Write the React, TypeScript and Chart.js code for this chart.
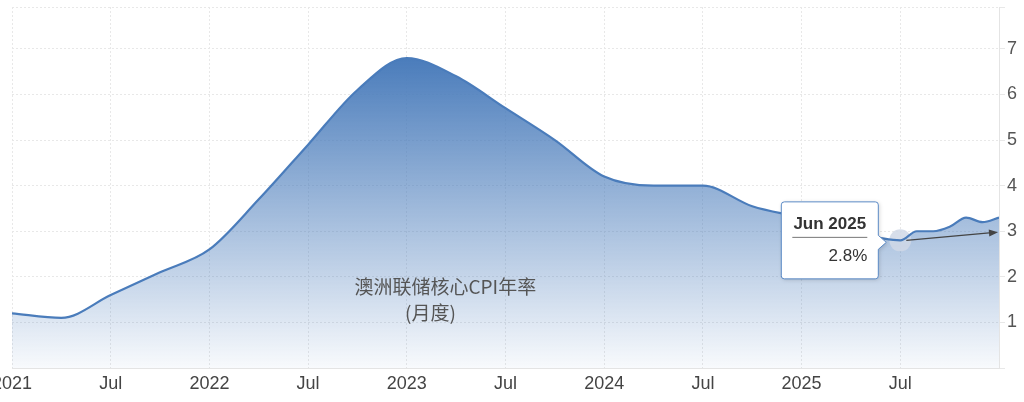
import { useEffect, useRef } from "react";
import { Chart, registerables } from "chart.js";

Chart.register(...registerables);

// quarterly readings, monthly from mid-2025 (period = month the reading ends)
const periods = [
  "2020-12", "2021-03", "2021-06", "2021-09", "2021-12",
  "2022-03", "2022-06", "2022-09", "2022-12",
  "2023-03", "2023-06", "2023-09", "2023-12",
  "2024-03", "2024-06", "2024-09", "2024-12",
  "2025-03", "2025-06", "2025-07", "2025-08", "2025-09", "2025-10", "2025-11", "2025-12",
];
const values = [
  1.2, 1.1, 1.6, 2.1, 2.6,
  3.7, 4.9, 6.1, 6.8,
  6.4, 5.7, 5.0, 4.2,
  4.0, 4.0, 3.55, 3.3,
  3.0, 2.8, 3.0, 3.0, 3.1, 3.3, 3.2, 3.3,
];
const yTicks = [1, 2, 3, 4, 5, 6, 7];
const yMax = 7.92;
const tooltipTitle = "Jun 2025";
const tooltipValue = "2.8%";
const hoverPeriod = "2025-06";
const arrowEndValue = 2.98;
const titleLines = ["澳洲联储核心CPI年率", "(月度)"];

const BASE_YEAR = 2021;
const toMonth = (p: string) => {
  const [y, m] = p.split("-").map(Number);
  return (y - BASE_YEAR) * 12 + m;
};
const points = periods.map((p, i) => ({ x: toMonth(p), y: values[i] }));
const hoverIndex = periods.indexOf(hoverPeriod);
const lastMonth = points[points.length - 1].x;

const LINE = "#4a7cbb";
const FONT = "'Liberation Sans', Arial, sans-serif";

const overlayPlugin = {
  id: "overlay",
  // runs after the filler has painted the area, before the line itself
  beforeDatasetDraw(chart: any) {
    const { ctx, scales } = chart;
    const pt = points[hoverIndex];
    ctx.save();
    ctx.fillStyle = "rgba(208,216,230,0.85)";
    ctx.beginPath();
    ctx.arc(scales.x.getPixelForValue(pt.x), scales.y.getPixelForValue(pt.y), 11, 0, Math.PI * 2);
    ctx.fill();
    ctx.restore();
  },
  afterDatasetsDraw(chart: any) {
    const { ctx, chartArea, scales } = chart;
    const w = chartArea.right - chartArea.left;
    const h = chartArea.bottom - chartArea.top;

    // series title inside the area
    ctx.save();
    ctx.fillStyle = "#555";
    ctx.font = "19px 'Noto Sans CJK SC', sans-serif";
    ctx.textAlign = "center";
    ctx.textBaseline = "middle";
    ctx.fillText(titleLines[0], chartArea.left + w * 0.439, chartArea.top + h * 0.776);
    ctx.fillText(titleLines[1], chartArea.left + w * 0.424, chartArea.top + h * 0.848);
    ctx.restore();

    // arrow from hovered point to the axis
    const pt = points[hoverIndex];
    const x0 = scales.x.getPixelForValue(pt.x);
    const y0 = scales.y.getPixelForValue(pt.y);
    const x1 = chartArea.right - 1;
    const y1 = scales.y.getPixelForValue(arrowEndValue);
    const ang = Math.atan2(y1 - y0, x1 - x0);
    ctx.save();
    ctx.strokeStyle = "#444";
    ctx.fillStyle = "#444";
    ctx.lineWidth = 1.3;
    ctx.beginPath();
    ctx.moveTo(x0 + 6, y0);
    ctx.lineTo(x1 - 6 * Math.cos(ang), y1 - 6 * Math.sin(ang));
    ctx.stroke();
    ctx.beginPath();
    ctx.moveTo(x1, y1);
    ctx.lineTo(x1 - 9 * Math.cos(ang) + 3.5 * Math.sin(ang), y1 - 9 * Math.sin(ang) - 3.5 * Math.cos(ang));
    ctx.lineTo(x1 - 9 * Math.cos(ang) - 3.5 * Math.sin(ang), y1 - 9 * Math.sin(ang) + 3.5 * Math.cos(ang));
    ctx.closePath();
    ctx.fill();
    ctx.restore();
  },
  afterDraw(chart: any) {
    const { ctx, scales } = chart;
    const pt = points[hoverIndex];
    const px = scales.x.getPixelForValue(pt.x);
    const py = scales.y.getPixelForValue(pt.y);
    const bw = 97;
    const bh = 77;
    const right = px - 22;
    const left = right - bw;
    const top = py - bh / 2;
    const cy = py + 2;

    ctx.save();
    ctx.shadowColor = "rgba(0,0,0,0.18)";
    ctx.shadowBlur = 4;
    ctx.shadowOffsetX = 1;
    ctx.shadowOffsetY = 1;
    ctx.beginPath();
    ctx.moveTo(left + 3, top);
    ctx.lineTo(right - 3, top);
    ctx.quadraticCurveTo(right, top, right, top + 3);
    ctx.lineTo(right, cy - 7);
    ctx.lineTo(right + 8, cy);
    ctx.lineTo(right, cy + 7);
    ctx.lineTo(right, top + bh - 3);
    ctx.quadraticCurveTo(right, top + bh, right - 3, top + bh);
    ctx.lineTo(left + 3, top + bh);
    ctx.quadraticCurveTo(left, top + bh, left, top + bh - 3);
    ctx.lineTo(left, top + 3);
    ctx.quadraticCurveTo(left, top, left + 3, top);
    ctx.closePath();
    ctx.fillStyle = "#fff";
    ctx.fill();
    ctx.shadowColor = "transparent";
    ctx.strokeStyle = "#5b8ac6";
    ctx.lineWidth = 1;
    ctx.stroke();

    ctx.fillStyle = "#333";
    ctx.textBaseline = "middle";
    ctx.font = `bold 17px ${FONT}`;
    ctx.textAlign = "center";
    ctx.fillText(tooltipTitle, (left + right) / 2, top + 22);
    ctx.strokeStyle = "#777";
    ctx.beginPath();
    ctx.moveTo(left + 11, top + 35.5);
    ctx.lineTo(right - 11, top + 35.5);
    ctx.stroke();
    ctx.font = `17px ${FONT}`;
    ctx.textAlign = "right";
    ctx.fillText(tooltipValue, right - 11, top + 54);
    ctx.restore();
  },
};

export default function App() {
  const canvasRef = useRef<HTMLCanvasElement>(null);
  const chartRef = useRef<Chart | null>(null);

  useEffect(() => {
    if (!canvasRef.current) return;
    chartRef.current?.destroy();

    const peak = Math.max(...values);

    chartRef.current = new Chart(canvasRef.current, {
      type: "line",
      data: {
        datasets: [
          {
            data: points,
            borderColor: LINE,
            borderWidth: 2.2,
            cubicInterpolationMode: "monotone",
            fill: "origin",
            backgroundColor: (c: any) => {
              const { chart } = c;
              const area = chart.chartArea;
              if (!area) return "rgba(74,124,187,0.4)";
              const top = chart.scales.y.getPixelForValue(peak);
              const g = chart.ctx.createLinearGradient(0, top, 0, area.bottom);
              g.addColorStop(0, "rgba(74,124,187,1)");
              g.addColorStop(1, "rgba(74,124,187,0.04)");
              return g;
            },
            pointRadius: 0,
            pointHoverRadius: 0,
          },
        ],
      },
      options: {
        responsive: true,
        maintainAspectRatio: false,
        animation: false,
        events: [],
        layout: { padding: { top: 7, left: 12, right: 0, bottom: 0 } },
        plugins: {
          legend: { display: false },
          tooltip: { enabled: false },
        },
        scales: {
          x: {
            type: "linear",
            min: 0,
            max: lastMonth,
            afterFit: (s: any) => {
              s.paddingLeft = 0;
              s.paddingRight = 0;
              s.height = 34;
            },
            ticks: {
              stepSize: 6,
              autoSkip: false,
              maxRotation: 0,
              padding: 5,
              color: "#444",
              font: { family: FONT, size: 18 },
              callback: (v: any) =>
                v === lastMonth ? "" : v % 12 === 0 ? String(BASE_YEAR + v / 12) : "Jul",
            },
            grid: { color: "#e8e8e8", drawTicks: false },
            border: { color: "#e4e4e4", dash: [2, 2] },
          },
          y: {
            position: "right",
            min: 0,
            max: yMax,
            afterFit: (s: any) => {
              s.width = 25;
              s.paddingTop = 0;
              s.paddingBottom = 0;
            },
            afterBuildTicks: (s: any) => {
              s.ticks = [0, ...yTicks, yMax].map((value) => ({ value }));
            },
            ticks: {
              padding: 2,
              color: "#555",
              font: { family: FONT, size: 18 },
              callback: (v: any) => (yTicks.includes(v) ? String(v) : ""),
            },
            grid: { color: "#e8e8e8", tickLength: 6 },
            border: { color: "#e4e4e4", dash: [2, 2] },
          },
        },
      },
      plugins: [overlayPlugin],
    });

    return () => {
      chartRef.current?.destroy();
      chartRef.current = null;
    };
  }, []);

  return (
    <div style={{ position: "fixed", left: 0, top: 0, width: 1024, height: 402, background: "#fff" }}>
      <canvas ref={canvasRef}></canvas>
    </div>
  );
}
